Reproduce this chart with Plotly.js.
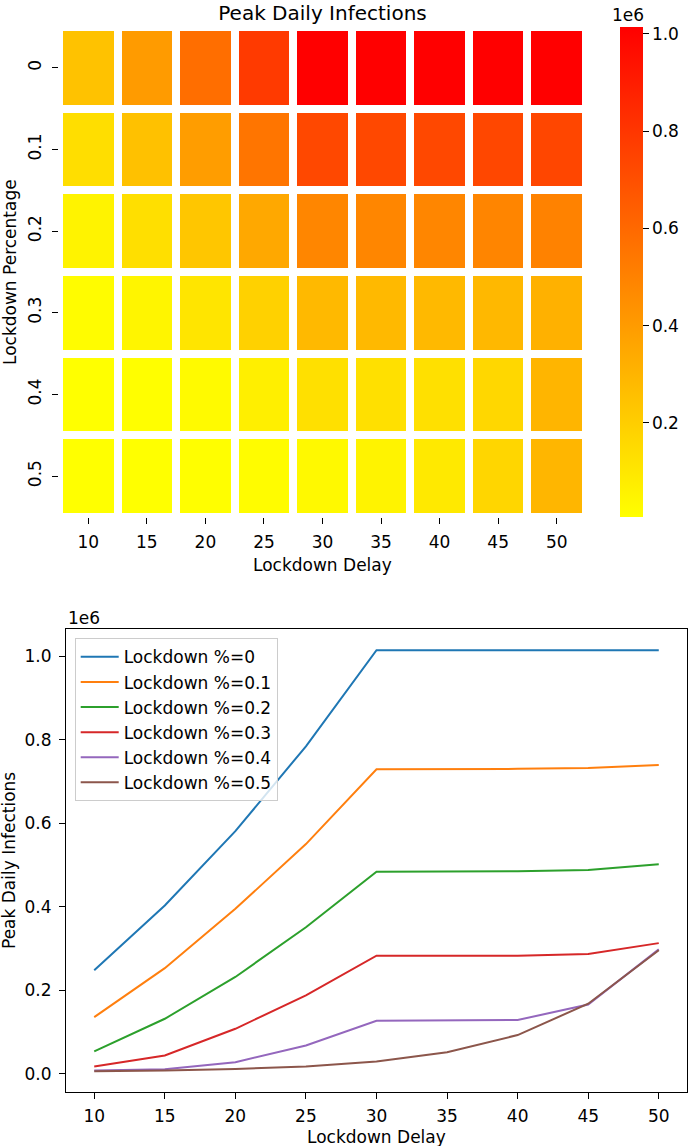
<!DOCTYPE html>
<html><head><meta charset="utf-8">
<script src="https://cdn.plot.ly/plotly-3.0.1.min.js"></script>
<style>html,body{margin:0;padding:0;background:#fff}#chart{width:689px;height:1146px}</style>
</head><body><div id="chart"></div>
<script>
// ---- data ----
const delays = [10, 15, 20, 25, 30, 35, 40, 45, 50];
const delayLabels = ['10', '15', '20', '25', '30', '35', '40', '45', '50'];
const lockdownPcts = [0, 0.1, 0.2, 0.3, 0.4, 0.5];
const pctLabels = ['0', '0.1', '0.2', '0.3', '0.4', '0.5'];
const peakPct0  = [248000, 403000, 581000, 784000, 1014000, 1014000, 1014000, 1014000, 1014000];
const peakPct01 = [136000, 253000, 395000, 550000, 729000, 729000, 730000, 732000, 739000];
const peakPct02 = [54000, 132000, 232000, 351000, 484000, 484000, 485000, 488000, 502000];
const peakPct03 = [18000, 44000, 108000, 188000, 283000, 283000, 283000, 287000, 313000];
const peakPct04 = [8000, 11000, 28000, 68000, 127000, 128000, 129000, 166000, 298000];
const peakPct05 = [6400, 8000, 12000, 18000, 30000, 52000, 93000, 168000, 296000];
const seriesNames = ['Lockdown %=0', 'Lockdown %=0.1', 'Lockdown %=0.2', 'Lockdown %=0.3', 'Lockdown %=0.4', 'Lockdown %=0.5'];
const seriesColors = ['#1f77b4', '#ff7f0e', '#2ca02c', '#d62728', '#9467bd', '#8c564b'];
const scaledTicks = [0, 200000, 400000, 600000, 800000, 1000000];
const scaledTickText = ['0.0', '0.2', '0.4', '0.6', '0.8', '1.0'];
const colorbarTicks = [200000, 400000, 600000, 800000, 1000000];
const colorbarTickText = ['0.2', '0.4', '0.6', '0.8', '1.0'];

// ---- layout helpers (pixel -> paper) ----
const W = 689, H = 1146;
const px = v => v / W;
const py = v => 1 - v / H;
const FONT = 'DejaVu Sans, Verdana, sans-serif';
const TXT = '#000000';

const allSeries = [peakPct0, peakPct01, peakPct02, peakPct03, peakPct04, peakPct05];

const heat = {
  type: 'heatmap',
  x: delayLabels,
  y: pctLabels,
  z: allSeries,
  xaxis: 'x', yaxis: 'y',
  colorscale: [[0, 'rgb(255,255,0)'], [1, 'rgb(255,0,0)']],
  xgap: 8, ygap: 8,
  hoverinfo: 'skip',
  showlegend: false,
  colorbar: {
    x: px(620), xanchor: 'left', xpad: 0,
    y: py(272), yanchor: 'middle', ypad: 0,
    thickness: 23, thicknessmode: 'pixels',
    len: 490, lenmode: 'pixels',
    outlinewidth: 0,
    tickmode: 'array', tickvals: colorbarTicks, ticktext: colorbarTickText,
    ticks: 'outside', ticklen: 6, tickwidth: 1, tickcolor: TXT,
    tickfont: {family: FONT, size: 17, color: TXT}
  }
};

const lines = allSeries.map((vals, i) => ({
  type: 'scatter', mode: 'lines',
  x: delays, y: vals,
  name: seriesNames[i],
  line: {color: seriesColors[i], width: 2},
  xaxis: 'x2', yaxis: 'y2',
  hoverinfo: 'skip'
}));

const axisCommon = {
  ticks: 'outside', ticklen: 6, tickwidth: 1, tickcolor: TXT,
  tickfont: {family: FONT, size: 17, color: TXT},
  showgrid: false, zeroline: false, fixedrange: true
};

const layout = {
  width: W, height: H,
  margin: {l: 0, r: 0, t: 0, b: 0},
  paper_bgcolor: '#ffffff', plot_bgcolor: '#ffffff',
  font: {family: FONT, size: 17, color: TXT},
  title: {
    text: 'Peak Daily Infections',
    font: {family: FONT, size: 20, color: TXT},
    x: px(322.5), xanchor: 'center', xref: 'paper',
    y: py(13), yanchor: 'middle', yref: 'container'
  },
  xaxis: Object.assign({}, axisCommon, {
    domain: [px(59), px(586)], anchor: 'y', type: 'category',
    showline: false, ticklabelstandoff: 4
  }),
  yaxis: Object.assign({}, axisCommon, {
    domain: [py(517), py(27)], anchor: 'x', type: 'category',
    autorange: 'reversed', tickangle: -90, showline: false, ticklabelstandoff: 4
  }),
  xaxis2: Object.assign({}, axisCommon, {
    domain: [px(66), px(687)], anchor: 'y2', range: [8, 52],
    tickmode: 'array', tickvals: delays, ticktext: delayLabels,
    showline: true, mirror: true, linecolor: TXT, linewidth: 1, ticklabelstandoff: 2
  }),
  yaxis2: Object.assign({}, axisCommon, {
    domain: [py(1092.3), py(629.3)], anchor: 'x2', range: [-44000, 1064000],
    tickmode: 'array', tickvals: scaledTicks, ticktext: scaledTickText,
    showline: true, mirror: true, linecolor: TXT, linewidth: 1, ticklabelstandoff: 4
  }),
  legend: {
    x: px(74.7), xanchor: 'left', y: py(638.3), yanchor: 'top',
    xref: 'paper', yref: 'paper',
    bgcolor: 'rgba(255,255,255,0.8)', bordercolor: '#cccccc', borderwidth: 1,
    font: {family: FONT, size: 17, color: TXT},
    itemwidth: 38
  },
  showlegend: true,
  annotations: [
    {text: 'Lockdown Delay', x: px(322.5), y: py(565), xref: 'paper', yref: 'paper',
     xanchor: 'center', yanchor: 'middle', showarrow: false, font: {family: FONT, size: 17, color: TXT}},
    {text: 'Lockdown Percentage', x: px(10), y: py(272), xref: 'paper', yref: 'paper',
     xanchor: 'center', yanchor: 'middle', textangle: -90, showarrow: false, font: {family: FONT, size: 17, color: TXT}},
    {text: '1e6', x: px(628), y: py(15), xref: 'paper', yref: 'paper',
     xanchor: 'center', yanchor: 'middle', showarrow: false, font: {family: FONT, size: 17, color: TXT}},
    {text: '1e6', x: px(66), y: py(618), xref: 'paper', yref: 'paper',
     xanchor: 'left', yanchor: 'middle', showarrow: false, font: {family: FONT, size: 17, color: TXT}},
    {text: 'Lockdown Delay', x: px(376.5), y: py(1137), xref: 'paper', yref: 'paper',
     xanchor: 'center', yanchor: 'middle', showarrow: false, font: {family: FONT, size: 17, color: TXT}},
    {text: 'Peak Daily Infections', x: px(9), y: py(861), xref: 'paper', yref: 'paper',
     xanchor: 'center', yanchor: 'middle', textangle: -90, showarrow: false, font: {family: FONT, size: 17, color: TXT}}
  ]
};

Plotly.newPlot('chart', [heat].concat(lines), layout, {displayModeBar: false, staticPlot: true});
</script>
</body></html>
